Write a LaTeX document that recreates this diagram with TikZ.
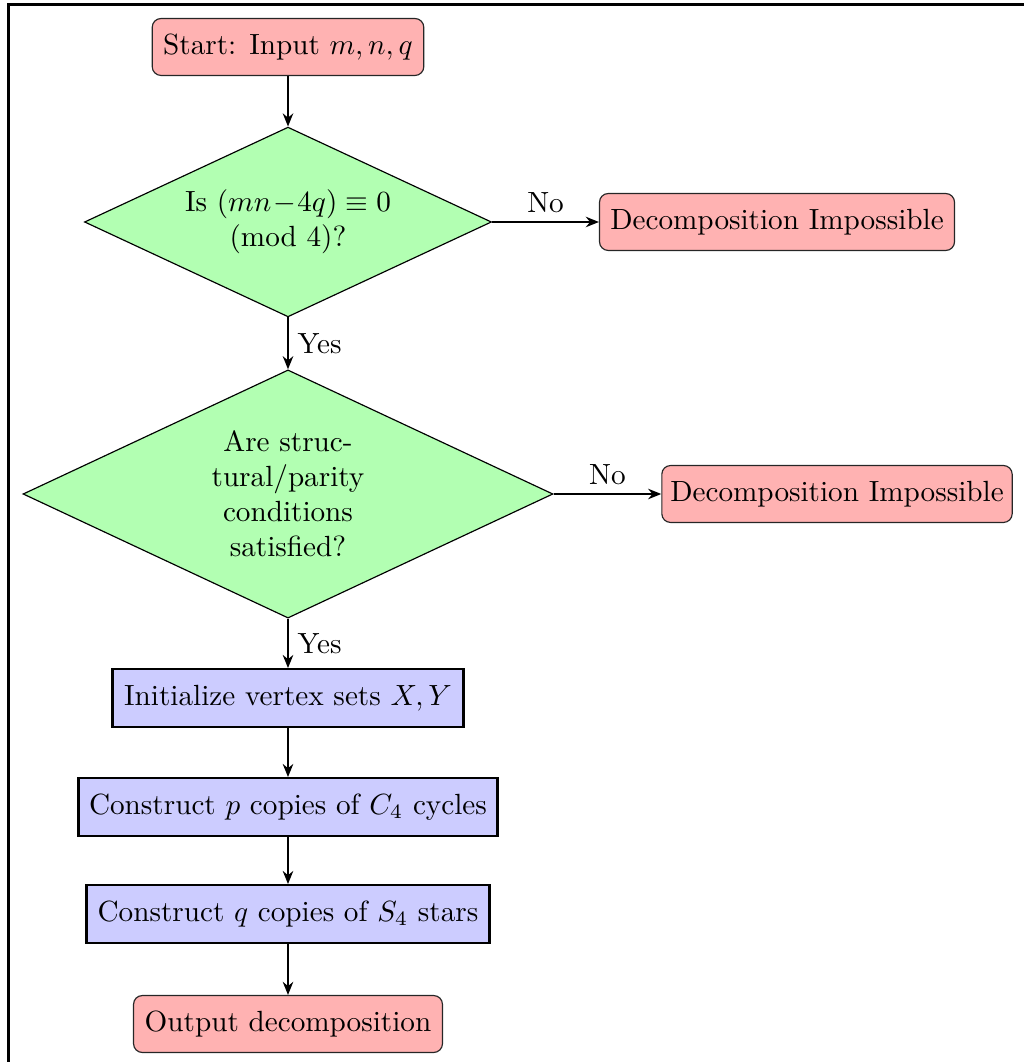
\documentclass[tikz,border=0pt]{standalone}
\usetikzlibrary{shapes.geometric,arrows.meta}
\begin{document}
\begin{tikzpicture}[x=0.3425pt,y=-0.3425pt,
  term/.style={draw=black!85, fill=red!30, rounded corners=3pt, inner sep=0pt, minimum height=19.5pt, align=center, thin},
  dec/.style={draw=black, fill=green!30, diamond, aspect=2.14, inner sep=0pt, align=center, thin},
  proc/.style={draw=black, fill=blue!20, inner sep=0pt, minimum height=19.7pt, thick},
  arr/.style={-{Stealth[length=4.5pt,width=3.6pt]}, semithick},
  lbl/.style={inner sep=3pt}
]
\useasboundingbox (0,0) rectangle (1024,1062);
\draw[line width=0.7pt] (8.5,1062) -- (8.5,4.5) -- (1024,4.5);

\node[term, minimum width=93pt] (start) at (288,47) {Start: Input $m,n,q$};
\node[dec, minimum width=139.4pt, minimum height=65pt] (d1) at (288,222) {Is $(mn\!-\!4q)\equiv 0$\\(mod 4)?};
\node[term, minimum width=121.6pt] (imp1) at (777,222) {Decomposition Impossible};
\node[dec, minimum width=181.5pt, minimum height=85pt] (d2) at (288,494) {Are struc-\\tural/parity\\conditions\\satisfied?};
\node[term, minimum width=120pt] (imp2) at (837,494) {Decomposition Impossible};
\node[proc, minimum width=120.2pt] (init) at (288,698) {Initialize vertex sets $X,Y$};
\node[proc, minimum width=143.5pt] (cp) at (288,807) {Construct $p$ copies of $C_4$ cycles};
\node[proc, minimum width=138pt] (cq) at (288,914) {Construct $q$ copies of $S_4$ stars};
\node[term, minimum width=105.8pt] (out) at (288,1024) {Output decomposition};

\draw[arr] (start) -- (d1);
\draw[arr] (d1) -- node[lbl, above] {No} (imp1);
\draw[arr] (d1) -- node[lbl, right] {Yes} (d2);
\draw[arr] (d2) -- node[lbl, above] {No} (imp2);
\draw[arr] (d2) -- node[lbl, right] {Yes} (init);
\draw[arr] (init) -- (cp);
\draw[arr] (cp) -- (cq);
\draw[arr] (cq) -- (out);
\end{tikzpicture}
\end{document}
